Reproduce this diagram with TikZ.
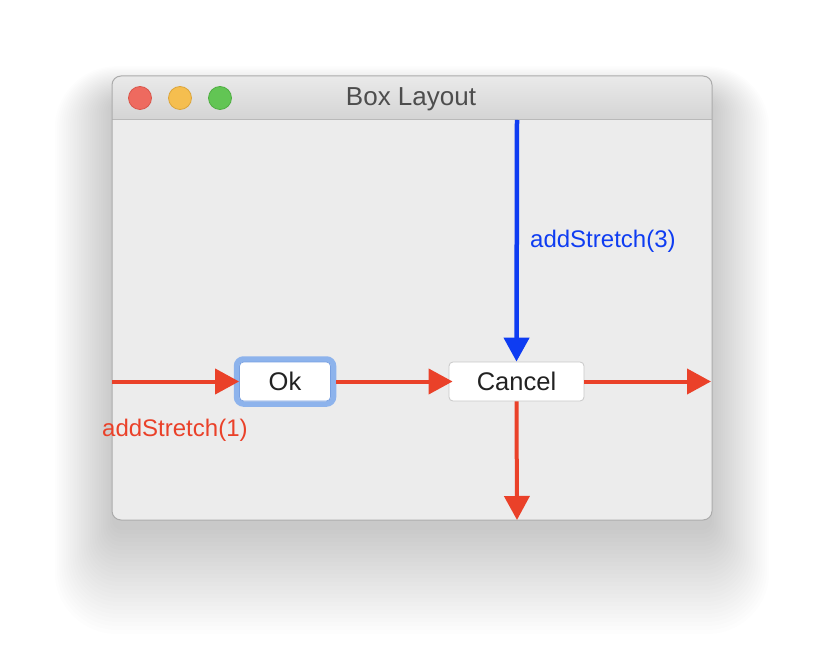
\documentclass[tikz,border=0pt]{standalone}
\usepackage{fontspec}
\setmainfont{Liberation Sans}
\usetikzlibrary{arrows.meta}
\definecolor{arrred}{HTML}{EA4129}
\definecolor{arrblue}{HTML}{0E3CF2}
\definecolor{winbg}{HTML}{ECECEC}
\definecolor{winedge}{HTML}{ABABAB}
\definecolor{sepline}{HTML}{B9B9B9}
\definecolor{titletop}{HTML}{EAEAEA}
\definecolor{titlebot}{HTML}{D4D4D4}
\definecolor{ringblue}{HTML}{8DB3EC}
\definecolor{okedge}{HTML}{78A0E1}
\definecolor{cancedge}{HTML}{C8C8C8}
\definecolor{titletext}{HTML}{4D4D4D}
\definecolor{btntext}{HTML}{222222}
\definecolor{tlred}{HTML}{EE6A5F}
\definecolor{tlredb}{HTML}{D9564B}
\definecolor{tlyel}{HTML}{F5BE4F}
\definecolor{tlyelb}{HTML}{DCA53A}
\definecolor{tlgrn}{HTML}{62C554}
\definecolor{tlgrnb}{HTML}{4FAE42}
\tikzset{
  redarrow/.style={draw=arrred, line width=4pt, -{Triangle[length=24pt,width=25pt]}},
  bluearrow/.style={draw=arrblue, line width=4.5pt, -{Triangle[length=24pt,width=25pt]}},
  button/.style={draw=#1, fill=white, rounded corners=4pt, line width=0.8pt, inner sep=0pt,
    font=\fontsize{25.5}{30}\selectfont, text=btntext},
  light/.style={circle, minimum size=23pt, inner sep=0pt, line width=0.8pt},
  label/.style={inner sep=0pt, anchor=west, font=\fontsize{24}{28}\selectfont}
}
\begin{document}
\begin{tikzpicture}[x=1pt,y=-1pt]
\useasboundingbox (0,0) rectangle (824,668);
% shadow
\foreach \i in {0,...,26}{
  \fill[black, opacity=0.009, rounded corners={10+2*\i}] (112-2.2*\i, 100-1.3*\i) rectangle (712+2.2*\i, 530+4*\i);
}
% window
\fill[winbg, rounded corners=9pt] (112,76) rectangle (712,520);
\begin{scope}
  \clip[rounded corners=9pt] (112,76) rectangle (712,520);
  \shade[top color=titletop, bottom color=titlebot] (112,76) rectangle (712,119);
\end{scope}
\draw[line width=1pt, sepline] (112,119.5) -- (712,119.5);
\draw[winedge, line width=1pt, rounded corners=9pt] (112,76) rectangle (712,520);
% traffic lights
\node[light, fill=tlred, draw=tlredb] (close) at (140,98) {};
\node[light, fill=tlyel, draw=tlyelb] (mini) at (180,98) {};
\node[light, fill=tlgrn, draw=tlgrnb] (zoom) at (220,98) {};
\node[text=titletext, font=\fontsize{26}{30}\selectfont, inner sep=0pt] (title) at (411,99) {Box Layout};
% buttons
\node[draw=ringblue, line width=5.5pt, rounded corners=7pt, minimum width=97pt, minimum height=45pt, inner sep=0pt] (okring) at (285,381.5) {};
\node[button=okedge, minimum width=91pt, minimum height=39pt] (ok) at (285,381.5) {Ok};
\node[button=cancedge, minimum width=135pt, minimum height=39pt] (cancel) at (516.5,381.5) {Cancel};
% coordinates at window edges
\coordinate (wleft) at (112,381.5);
\coordinate (wright) at (711,381.5);
\coordinate (wtop) at (517,120);
\coordinate (wbottom) at (517,520);
% arrows
\draw[redarrow] (wleft) -- (ok.west);
\draw[redarrow, shorten >=-4pt] (okring.east) -- (cancel.west);
\draw[redarrow] (cancel.east) -- (wright);
\draw[redarrow] (cancel.south) -- (wbottom);
\draw[bluearrow] (wtop) -- (cancel.north);
% labels
\node[label, text=arrblue] (l3) at (530,241) {addStretch(3)};
\node[label, text=arrred] (l1) at (102,430) {addStretch(1)};
\end{tikzpicture}
\end{document}
